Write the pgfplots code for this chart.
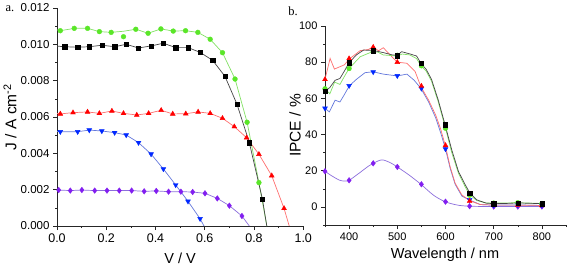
\documentclass[border=0pt]{standalone}
\usepackage{fontspec}
\setmainfont{Liberation Sans}
\newfontfamily\seriffont{Liberation Serif}
\usepackage{pgfplots}
\pgfplotsset{compat=1.18}
\definecolor{gmk}{RGB}{90,230,40}
\definecolor{gline}{RGB}{130,225,100}
\definecolor{kline}{RGB}{70,70,70}
\definecolor{rmk}{RGB}{255,0,0}
\definecolor{rline}{RGB}{255,110,110}
\definecolor{bmk}{RGB}{0,40,255}
\definecolor{bline}{RGB}{100,120,220}
\definecolor{pmk}{RGB}{130,30,240}
\definecolor{pline}{RGB}{140,110,220}
\pgfplotsset{
  orig/.style={
    scale only axis, axis lines*=left, tick align=outside,
    major tick length=4pt, minor tick length=2pt,
    axis line style={line width=0.8pt, black!85},
    every tick/.style={black!85, line width=0.6pt},
    tick label style={font=\fontsize{11}{13}\selectfont},
    label style={font=\fontsize{14.5}{16}\selectfont},
    ylabel style={font=\fontsize{15.5}{17}\selectfont},
    /pgf/number format/assume math mode=true,
  },
  ln/.style={line width=0.7pt, mark=none},
}
\begin{document}
\begin{tikzpicture}
\useasboundingbox (0,0) rectangle (567pt,268pt);
\node[font=\seriffont\fontsize{12.5}{14}\selectfont] at (10pt,259pt) {a.};
\node[font=\seriffont\fontsize{12.5}{14}\selectfont] at (293pt,257pt) {b.};
% ---------------- panel a
\begin{axis}[orig, at={(57pt,42pt)}, anchor=south west,
  width=246.25pt, height=218pt,
  xmin=0, xmax=1.0, ymin=0, ymax=0.012,
  xtick={0,0.2,0.4,0.6,0.8,1.0},
  ytick={0,0.002,0.004,0.006,0.008,0.010,0.012},
  minor x tick num=1, minor y tick num=1,
  scaled y ticks=false,
  xticklabel style={font=\fontsize{12.5}{14}\selectfont, /pgf/number format/.cd, fixed, fixed zerofill, precision=1},
  yticklabel style={font=\fontsize{11.5}{13}\selectfont, /pgf/number format/.cd, fixed, fixed zerofill, precision=3},
  xlabel={V / V}, ylabel={J / A cm\textsuperscript{-2}},
  xlabel style={at={(axis description cs:0.5,-0.147)}, anchor=center},
  ylabel style={at={(axis description cs:-0.191,0.5)}, anchor=center},
]
% purple
\addplot[ln, pline] coordinates {(0,0.00198) (0.007,0.00198) (0.054,0.00195) (0.101,0.00198) (0.153,0.00195) (0.203,0.00195) (0.253,0.00195) (0.303,0.00195) (0.354,0.00191) (0.403,0.00193) (0.453,0.00189) (0.503,0.00189) (0.551,0.00187) (0.601,0.00180) (0.651,0.00152) (0.700,0.00112) (0.751,0.00055) (0.781,0)};
\addplot[only marks, mark=diamond*, mark size=2.8pt, pmk] coordinates {(0.007,0.00198) (0.054,0.00195) (0.101,0.00198) (0.153,0.00195) (0.203,0.00195) (0.253,0.00195) (0.303,0.00195) (0.354,0.00191) (0.403,0.00193) (0.453,0.00189) (0.503,0.00189) (0.551,0.00187) (0.601,0.00180) (0.651,0.00152) (0.700,0.00112) (0.751,0.00055)};
% blue
\addplot[ln, bline] coordinates {(0,0.00520) (0.0135,0.00519) (0.084,0.00519) (0.131,0.00528) (0.182,0.00523) (0.234,0.00514) (0.281,0.00501) (0.331,0.00459) (0.382,0.00396) (0.432,0.00314) (0.482,0.00226) (0.532,0.00136) (0.581,0.00040) (0.597,0)};
\addplot[only marks, mark=triangle*, mark options={rotate=180}, mark size=2.8pt, bmk] coordinates {(0.0135,0.00519) (0.084,0.00519) (0.131,0.00528) (0.182,0.00523) (0.234,0.00514) (0.281,0.00501) (0.331,0.00459) (0.382,0.00396) (0.432,0.00314) (0.482,0.00226) (0.532,0.00136) (0.581,0.00040)};
% red
\addplot[ln, rline] coordinates {(0,0.00620) (0.0135,0.00617) (0.065,0.00624) (0.124,0.00628) (0.172,0.00620) (0.223,0.00633) (0.270,0.00620) (0.324,0.00611) (0.372,0.00620) (0.423,0.00637) (0.470,0.00617) (0.523,0.00618) (0.573,0.00628) (0.622,0.00620) (0.672,0.00593) (0.720,0.00547) (0.770,0.00486) (0.820,0.00395) (0.872,0.00277) (0.922,0.00097) (0.943,0)};
\addplot[only marks, mark=triangle*, mark size=2.8pt, rmk] coordinates {(0.0135,0.00617) (0.065,0.00624) (0.124,0.00628) (0.172,0.00620) (0.223,0.00633) (0.270,0.00620) (0.324,0.00611) (0.372,0.00620) (0.423,0.00637) (0.470,0.00617) (0.523,0.00618) (0.573,0.00628) (0.622,0.00620) (0.672,0.00593) (0.720,0.00547) (0.770,0.00486) (0.820,0.00395) (0.872,0.00277) (0.922,0.00097)};
% green
\addplot[ln, gline] coordinates {(0,0.01080) (0.0135,0.01075) (0.070,0.01088) (0.124,0.01088) (0.172,0.01070) (0.220,0.01066) (0.270,0.01072) (0.320,0.01083) (0.370,0.01061) (0.422,0.01085) (0.472,0.01073) (0.522,0.01075) (0.572,0.01066) (0.622,0.01028) (0.672,0.00954) (0.723,0.00809) (0.772,0.00571) (0.820,0.00239) (0.852,0)};
\addplot[only marks, mark=*, mark size=2.4pt, gmk] coordinates {(0.0135,0.01075) (0.070,0.01088) (0.124,0.01088) (0.172,0.01070) (0.220,0.01066) (0.270,0.01042) (0.320,0.01083) (0.370,0.01061) (0.422,0.01085) (0.472,0.01073) (0.522,0.01075) (0.572,0.01066) (0.622,0.01028) (0.672,0.00954) (0.723,0.00809) (0.772,0.00571) (0.820,0.00239)};
% black
\addplot[ln, kline] coordinates {(0,0.00990) (0.031,0.00987) (0.084,0.00984) (0.132,0.00987) (0.182,0.00995) (0.234,0.00987) (0.281,0.01000) (0.331,0.00980) (0.381,0.00991) (0.432,0.01006) (0.482,0.00982) (0.532,0.00982) (0.581,0.00956) (0.632,0.00912) (0.682,0.00824) (0.731,0.00670) (0.781,0.00459) (0.834,0.00149) (0.852,0)};
\addplot[only marks, mark=square*, mark size=2.1pt, black] coordinates {(0.031,0.00987) (0.084,0.00984) (0.132,0.00987) (0.182,0.00995) (0.234,0.00987) (0.281,0.01000) (0.331,0.00980) (0.381,0.00991) (0.432,0.01006) (0.482,0.00982) (0.532,0.00982) (0.581,0.00956) (0.632,0.00912) (0.682,0.00824) (0.731,0.00670) (0.781,0.00459) (0.834,0.00149)};
\end{axis}
% ---------------- panel b
\begin{axis}[orig, at={(325pt,43pt)}, anchor=south west,
  width=241pt, height=199pt,
  xmin=350, xmax=850, ymin=-10, ymax=100,
  xtick={400,500,600,700,800},
  ytick={0,20,40,60,80,100},
  minor xtick={350,450,550,650,750,850},
  minor ytick={-10,10,30,50,70,90},
  xlabel={Wavelength / nm}, ylabel={IPCE / \%},
  xlabel style={at={(axis description cs:0.498,-0.151)}, anchor=center},
  ylabel style={at={(axis description cs:-0.124,0.5)}, anchor=center},
]
% purple
\addplot[ln, pline, smooth] coordinates {(350,19.7) (365,17) (380,14.8) (390,14.3) (400,14.7) (420,18.5) (440,22.5) (450,24.1) (467.8,26) (485,24.5) (500,22.1) (525,17.5) (549,12.5) (575,6.5) (599,2.9) (625,1.0) (650,0.4) (700,0.2) (800,0.2)};
\addplot[only marks, mark=diamond*, mark size=2.8pt, pmk] coordinates {(350,19.7) (400,14.7) (450,24.1) (500,22.1) (550,12.5) (600,2.9) (650,0.4) (700,0.2) (750,0.2) (800,0.2)};
% blue
\addplot[ln, bline] coordinates {(350,54.5) (359,52.5) (371,59) (381,58) (390,62) (400.6,67) (416,70.7) (433,74.2) (449.5,74.7) (471,73.4) (500,72.4) (520,73.4) (535,70) (549,65.5) (565,58) (580,49) (590,41) (600,32) (609.5,21.5) (620,12.5) (634,6) (650,3.8) (672,1.3) (700,1.0) (750,1.1) (800,0.8)};
\addplot[only marks, mark=triangle*, mark options={rotate=180}, mark size=2.8pt, bmk] coordinates {(350,54.5) (400,67.0) (450,74.6) (500,72.5) (550,65.5) (600,32.0) (650,4.0) (700,1.0) (750,1.2) (800,0.8)};
% red
\addplot[ln, rline] coordinates {(350,70.5) (360.6,82.1) (369.5,76.2) (381,77.5) (390,78.5) (400.6,81.8) (423,86.4) (440,87) (449.5,88.5) (461,86.3) (471,88) (481.6,85) (500,80) (520,79.4) (537,74.8) (549,66.4) (565,59) (580,50.5) (590,43) (600,33.5) (609.5,22.3) (620,13.1) (634,6.6) (650,3.5) (672,1.3) (700,1.0) (750,1.0) (800,0.8)};
\addplot[only marks, mark=triangle*, mark size=2.8pt, rmk] coordinates {(350,70.5) (400,82.0) (450,88.3) (500,80.0) (550,66.8) (600,34.0) (650,3.2) (700,1.0) (750,1.0) (800,0.8)};
% green
\addplot[ln, gline] coordinates {(350,65.3) (360,62.5) (370,69) (381,67.7) (390,72) (400,76.5) (423,83) (450,86) (460,85.5) (471,84) (500,83.4) (510,84.5) (526,84) (540,82) (549,78) (560,75) (571,69.5) (585,58) (600,43.5) (613,30) (627,18.5) (641,11) (650,6.8) (665,3.5) (684,2.2) (700,2.1) (750,2.3) (800,1.9)};
\addplot[only marks, mark=*, mark size=2.4pt, gmk] coordinates {(350,65.3) (400,76.5) (450,86.0) (500,83.8) (550,78.0) (600,43.5) (650,6.5) (700,2.1) (750,2.3) (800,1.9)};
% black
\addplot[ln, kline] coordinates {(350,63.8) (360,66) (371,70) (381,71) (390,75) (400,79.7) (415,84) (430,86.7) (450,86.5) (471,85.3) (490,84) (500,83.8) (509,85.8) (527,84.5) (540,83.4) (549,79.4) (560,76) (571,70.5) (585,59) (599,45.5) (613,31.5) (627,19.5) (641,12.2) (650,7.9) (665,3.9) (684,2.1) (700,1.8) (725,1.9) (750,2.2) (775,2.0) (800,1.8)};
\addplot[only marks, mark=square*, mark size=2.1pt, black] coordinates {(350,64.0) (400,79.7) (450,86.3) (500,83.6) (550,79.3) (600,45.4) (650,7.7) (700,1.8) (750,2.2) (800,1.8)};
\end{axis}
\end{tikzpicture}
\end{document}
